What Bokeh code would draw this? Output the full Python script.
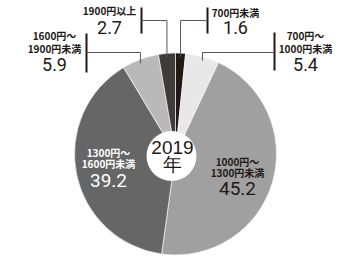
import math
from bokeh.plotting import figure
from bokeh.models import Range1d, ColumnDataSource
from bokeh.core.properties import value
from bokeh.embed import file_html
from bokeh.resources import INLINE

# ---- data (clockwise from 12 o'clock) ----
categories = ["700円未満", "700円～1000円未満", "1000円～1300円未満",
              "1300円～1600円未満", "1600円～1900円未満", "1900円以上"]
shares = [1.6, 5.4, 45.2, 39.2, 5.9, 2.7]
colors = ["#231815", "#e8e8e8", "#a0a0a0", "#666666", "#b9b9b9", "#3f3b3a"]
center_label = ["2019", "年"]

W, H = 354, 260
CX, CY, R = 175, 153.5, 101      # pie centre / radius in pixel units (y down)
HOLE_X, HOLE_Y, HOLE_R = 171, 155.5, 25

def Y(ypx):
    return H - ypx

p = figure(width=W, height=H, output_backend="svg", toolbar_location=None,
           x_range=Range1d(0, W), y_range=Range1d(0, H), min_border=0)
p.axis.visible = False
p.grid.visible = False
p.outline_line_color = None
p.background_fill_color = "white"

total = sum(shares)
starts, ends, mids = [], [], []
cum = 0.0
for s in shares:
    a0 = cum / total * 2 * math.pi
    cum += s
    a1 = cum / total * 2 * math.pi
    starts.append(math.pi / 2 - a1)
    ends.append(math.pi / 2 - a0)
    mids.append((a0 + a1) / 2)

src = ColumnDataSource(dict(start=starts, end=ends, color=colors, cat=categories))
p.wedge(x=CX, y=Y(CY), radius=R, start_angle="start", end_angle="end",
        direction="anticlock", fill_color="color", line_color="white",
        line_width=0.6, source=src)

# centre hole
p.scatter(x=[HOLE_X], y=[Y(HOLE_Y)], size=HOLE_R * 2, marker="circle",
          fill_color="white", line_color=None)
p.text(x=[HOLE_X + 1, HOLE_X + 1], y=[Y(147), Y(164)], text=center_label,
       text_font=value("Liberation Sans"), text_font_size="19px",
       text_align="center", text_baseline="middle", text_color="#231815")

jp = value("Noto Sans CJK JP")
num_font = value("Roboto")

def lines(c):
    if "～" in c:
        a, b = c.split("～")
        return [a + "～", b]
    return [c]

def draw_label(tx, ys, parts, col):
    p.text(x=[tx] * len(parts), y=[Y(v) for v in ys], text=parts, text_font=jp,
           text_font_size="10px", text_font_style="bold", text_align="center",
           text_baseline="middle", text_color=col)

# outside labels: idx -> (centre x, label y(s), number y, bar x, bar top, bar bottom, horizontal y)
outside = {
    0: (235, [12], 27, 207, 7, 33, 20),
    1: (305, [35, 48], 64, 274, 32, 70, 52),
    4: (54, [35, 48], 64, 86, 33, 72, 52),
    5: (109, [10], 27, 141, 7, 33, 20),
}
for i, (tx, lys, ny, bx, bt, bb, hy) in outside.items():
    draw_label(tx, lys, lines(categories[i]), "#231815")
    p.text(x=[tx], y=[Y(ny)], text=[f"{shares[i]:.1f}"], text_font=num_font,
           text_font_size="18px", text_align="center", text_baseline="middle",
           text_color="#231815")
    p.line(x=[bx, bx], y=[Y(bt), Y(bb)], line_color="#231815", line_width=2)
    xm = CX + R * math.sin(mids[i])
    ye = CY - R * math.cos(mids[i]) + 4
    p.line(x=[bx, xm, xm], y=[Y(hy), Y(hy), Y(ye)], line_color="#595757",
           line_width=1)

# inside labels
inside = {
    2: (237, [161, 172], 188, "#231815"),
    3: (108, [152, 163], 180, "white"),
}
for i, (tx, lys, ny, col) in inside.items():
    draw_label(tx, lys, lines(categories[i]), col)
    p.text(x=[tx], y=[Y(ny)], text=[f"{shares[i]:.1f}"], text_font=num_font,
           text_font_size="19px", text_align="center", text_baseline="middle",
           text_color=col)

open("out.html", "w").write(file_html(p, INLINE))
